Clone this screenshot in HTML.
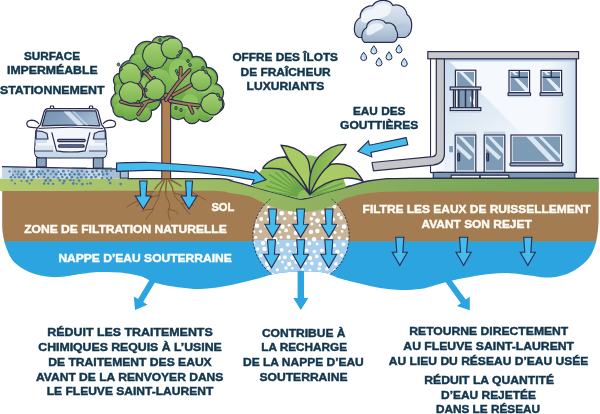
<!DOCTYPE html>
<html><head><meta charset="utf-8"><style>
html,body{margin:0;padding:0;background:#fff;width:600px;height:414px;overflow:hidden}
svg{display:block}
.tx{will-change:transform}
text{font-family:"Liberation Sans",sans-serif;font-weight:bold;stroke-width:0.45px;paint-order:stroke}
</style></head><body>
<svg width="600" height="414" viewBox="0 0 600 414">
<clipPath id="gclip"><path d="M2.2,181.5 L2.2,225.0 C2.3,226.2 2.2,229.3 2.6,232.0 C3.0,234.7 3.5,238.0 4.3,241.0 C5.1,244.0 5.9,246.8 7.2,250.0 C8.5,253.2 9.9,257.0 12.3,260.0 C14.7,263.0 18.4,265.8 21.7,268.0 C25.0,270.2 28.3,271.7 31.9,273.0 C35.5,274.3 39.6,275.3 43.5,276.0 C47.4,276.7 50.6,277.2 55.0,277.2 C59.4,277.1 65.8,276.2 70.0,275.7 C74.2,275.2 75.0,274.6 80.0,274.0 C85.0,273.4 93.3,272.2 100.0,272.0 C106.7,271.8 113.3,271.8 120.0,272.5 C126.7,273.2 135.0,274.7 140.0,276.0 C145.0,277.3 146.7,279.2 150.0,280.5 C153.3,281.8 155.0,282.8 160.0,284.0 C165.0,285.2 173.3,286.7 180.0,287.5 C186.7,288.3 193.3,289.1 200.0,289.0 C206.7,288.9 213.3,288.0 220.0,287.0 C226.7,286.0 233.3,284.5 240.0,283.0 C246.7,281.5 255.0,279.3 260.0,278.0 C265.0,276.7 266.7,275.8 270.0,275.0 C273.3,274.2 275.0,273.6 280.0,273.0 C285.0,272.4 293.3,271.8 300.0,271.6 C306.7,271.4 315.0,271.5 320.0,272.0 C325.0,272.5 326.7,273.4 330.0,274.5 C333.3,275.6 335.0,277.0 340.0,278.5 C345.0,280.0 353.3,282.0 360.0,283.6 C366.7,285.2 373.3,286.9 380.0,288.0 C386.7,289.1 393.3,289.8 400.0,290.0 C406.7,290.2 415.0,289.5 420.0,289.0 C425.0,288.5 425.0,288.1 430.0,286.8 C435.0,285.5 443.3,282.6 450.0,281.0 C456.7,279.4 463.3,278.2 470.0,277.0 C476.7,275.8 483.3,274.6 490.0,274.0 C496.7,273.4 503.3,272.9 510.0,273.2 C516.7,273.4 524.2,274.8 530.0,275.5 C535.8,276.2 540.0,277.4 545.0,277.5 C550.0,277.6 555.0,277.2 560.0,276.0 C565.0,274.8 570.2,272.9 575.0,270.0 C579.8,267.1 585.1,262.8 588.5,258.5 C591.9,254.2 593.9,249.4 595.5,244.0 C597.1,238.6 597.8,232.5 598.3,226.0 C598.8,219.5 598.5,208.5 598.6,205.0 L598.6,181.5 C579.7,181.5 431.4,181.4 410.0,181.5 C388.6,181.6 389.2,181.8 385.0,182.0 C380.8,182.2 371.5,183.3 368.0,184.0 C364.5,184.7 353.8,187.9 350.0,189.0 C346.2,190.1 333.8,193.4 330.0,194.5 C326.2,195.6 315.0,199.2 312.0,200.0 C309.0,200.8 303.0,202.2 300.0,202.0 C297.0,201.8 285.5,198.4 282.0,197.5 C278.5,196.6 268.2,193.9 265.0,193.0 C261.8,192.1 253.3,189.7 250.0,188.8 C246.7,187.9 235.0,184.9 232.0,184.2 C229.0,183.5 243.0,182.0 220.0,181.7 C197.0,181.4 24.0,181.5 2.2,181.5 Z"/></clipPath>
<g clip-path="url(#gclip)"><rect x="0" y="180" width="600" height="61.6" fill="#a37c51"/><rect x="0" y="241.6" width="600" height="60" fill="#2ca4df"/><rect x="0" y="240.6" width="600" height="1" fill="#a8784b"/><rect x="0" y="241.6" width="600" height="1.2" fill="#1aa8e7"/></g>
<clipPath id="ccl"><circle cx="301" cy="236" r="48"/></clipPath>
<g clip-path="url(#gclip)"><g clip-path="url(#ccl)"><rect x="250" y="185" width="102" height="54.5" fill="#c8b497"/><rect x="250" y="239.5" width="102" height="50" fill="#a9cfee"/><g fill="#fff"><circle cx="253.4" cy="206.0" r="2.0"/><circle cx="260.5" cy="207.1" r="1.7"/><circle cx="268.4" cy="207.0" r="1.3"/><circle cx="277.8" cy="205.7" r="1.4"/><circle cx="285.7" cy="208.0" r="1.4"/><circle cx="293.0" cy="207.4" r="2.3"/><circle cx="302.3" cy="206.7" r="2.4"/><circle cx="308.4" cy="208.1" r="1.6"/><circle cx="316.7" cy="205.9" r="1.6"/><circle cx="327.1" cy="206.0" r="1.9"/><circle cx="334.5" cy="206.6" r="1.9"/><circle cx="340.4" cy="205.7" r="1.5"/><circle cx="258.1" cy="213.0" r="1.6"/><circle cx="265.8" cy="213.1" r="1.6"/><circle cx="274.6" cy="213.8" r="1.6"/><circle cx="281.8" cy="213.3" r="2.3"/><circle cx="290.3" cy="212.6" r="2.4"/><circle cx="296.1" cy="213.0" r="2.1"/><circle cx="304.2" cy="213.2" r="1.3"/><circle cx="314.1" cy="214.0" r="1.9"/><circle cx="322.9" cy="212.6" r="2.1"/><circle cx="329.8" cy="213.4" r="1.8"/><circle cx="338.7" cy="214.5" r="1.8"/><circle cx="346.1" cy="211.9" r="2.1"/><circle cx="254.5" cy="220.9" r="2.2"/><circle cx="261.2" cy="219.1" r="2.0"/><circle cx="268.3" cy="219.3" r="1.5"/><circle cx="276.6" cy="218.1" r="2.1"/><circle cx="284.7" cy="218.6" r="1.7"/><circle cx="295.3" cy="218.1" r="1.8"/><circle cx="302.2" cy="220.6" r="2.2"/><circle cx="311.3" cy="218.7" r="1.8"/><circle cx="317.5" cy="220.6" r="2.4"/><circle cx="324.7" cy="218.4" r="1.6"/><circle cx="333.0" cy="219.4" r="1.9"/><circle cx="341.1" cy="217.9" r="1.8"/><circle cx="257.0" cy="225.8" r="2.3"/><circle cx="266.2" cy="225.6" r="2.0"/><circle cx="274.1" cy="224.3" r="2.3"/><circle cx="282.5" cy="226.7" r="2.2"/><circle cx="289.1" cy="225.3" r="1.4"/><circle cx="298.0" cy="224.3" r="1.4"/><circle cx="304.5" cy="224.6" r="1.7"/><circle cx="311.9" cy="224.1" r="1.5"/><circle cx="320.1" cy="225.2" r="1.3"/><circle cx="330.8" cy="225.9" r="1.5"/><circle cx="336.6" cy="225.1" r="1.7"/><circle cx="344.1" cy="226.6" r="2.4"/><circle cx="253.9" cy="231.8" r="1.4"/><circle cx="260.6" cy="231.3" r="1.6"/><circle cx="271.2" cy="230.8" r="1.3"/><circle cx="279.6" cy="231.9" r="1.5"/><circle cx="286.2" cy="230.4" r="1.9"/><circle cx="295.7" cy="232.9" r="2.1"/><circle cx="301.1" cy="231.4" r="1.5"/><circle cx="311.0" cy="231.9" r="2.2"/><circle cx="317.4" cy="231.0" r="2.2"/><circle cx="327.7" cy="232.9" r="2.2"/><circle cx="335.1" cy="232.5" r="1.5"/><circle cx="342.1" cy="231.4" r="1.3"/><circle cx="255.8" cy="237.3" r="1.6"/><circle cx="266.2" cy="239.4" r="1.8"/><circle cx="275.1" cy="239.5" r="2.4"/><circle cx="281.0" cy="237.2" r="1.5"/><circle cx="288.4" cy="237.1" r="2.0"/><circle cx="298.9" cy="239.0" r="1.8"/><circle cx="306.1" cy="238.9" r="1.4"/><circle cx="314.1" cy="239.2" r="2.2"/><circle cx="322.4" cy="237.9" r="1.5"/><circle cx="330.5" cy="237.5" r="2.2"/><circle cx="339.2" cy="237.7" r="1.7"/><circle cx="347.1" cy="238.7" r="1.5"/><circle cx="252.7" cy="243.2" r="2.3"/><circle cx="263.1" cy="243.1" r="2.2"/><circle cx="271.7" cy="244.7" r="1.7"/><circle cx="278.2" cy="243.1" r="1.3"/><circle cx="287.7" cy="244.6" r="1.9"/><circle cx="295.6" cy="244.0" r="2.3"/><circle cx="303.2" cy="243.3" r="1.6"/><circle cx="309.3" cy="243.4" r="1.9"/><circle cx="317.1" cy="244.0" r="1.4"/><circle cx="327.5" cy="243.8" r="1.8"/><circle cx="334.3" cy="245.4" r="1.8"/><circle cx="343.5" cy="244.2" r="1.9"/><circle cx="257.6" cy="249.0" r="1.8"/><circle cx="264.4" cy="248.9" r="2.2"/><circle cx="272.3" cy="250.3" r="2.1"/><circle cx="281.7" cy="249.9" r="1.9"/><circle cx="289.7" cy="251.3" r="1.4"/><circle cx="297.7" cy="249.6" r="1.6"/><circle cx="306.5" cy="250.4" r="1.9"/><circle cx="314.4" cy="251.6" r="1.8"/><circle cx="321.9" cy="250.4" r="1.9"/><circle cx="330.2" cy="250.3" r="1.9"/><circle cx="337.4" cy="251.7" r="2.1"/><circle cx="346.9" cy="251.7" r="1.6"/><circle cx="254.2" cy="257.9" r="2.2"/><circle cx="260.7" cy="255.5" r="1.8"/><circle cx="268.5" cy="255.8" r="1.4"/><circle cx="278.6" cy="257.5" r="2.3"/><circle cx="284.8" cy="257.2" r="2.0"/><circle cx="292.7" cy="257.7" r="2.4"/><circle cx="301.0" cy="258.0" r="1.7"/><circle cx="310.0" cy="258.1" r="2.2"/><circle cx="316.8" cy="256.4" r="1.9"/><circle cx="325.4" cy="255.7" r="1.7"/><circle cx="334.8" cy="255.2" r="1.9"/><circle cx="341.8" cy="255.2" r="1.7"/><circle cx="257.9" cy="262.8" r="1.4"/><circle cx="267.2" cy="263.7" r="2.4"/><circle cx="272.1" cy="262.1" r="1.3"/><circle cx="282.5" cy="262.1" r="1.4"/><circle cx="289.2" cy="264.0" r="2.2"/><circle cx="296.6" cy="261.7" r="2.3"/><circle cx="305.8" cy="263.4" r="1.4"/><circle cx="311.9" cy="263.4" r="1.8"/><circle cx="320.0" cy="264.1" r="2.0"/><circle cx="330.6" cy="261.6" r="2.2"/><circle cx="335.9" cy="263.9" r="1.8"/><circle cx="344.9" cy="263.0" r="2.3"/><circle cx="253.2" cy="267.9" r="1.9"/><circle cx="261.1" cy="267.8" r="1.5"/><circle cx="268.4" cy="268.1" r="1.6"/><circle cx="277.3" cy="269.8" r="1.6"/><circle cx="286.0" cy="268.0" r="1.7"/><circle cx="292.3" cy="268.3" r="1.3"/><circle cx="302.8" cy="269.2" r="1.5"/><circle cx="309.9" cy="270.3" r="1.4"/><circle cx="319.1" cy="268.8" r="1.8"/><circle cx="327.2" cy="268.7" r="1.9"/><circle cx="334.7" cy="270.4" r="1.7"/><circle cx="343.2" cy="269.6" r="2.0"/><circle cx="257.2" cy="274.7" r="1.4"/><circle cx="264.2" cy="273.9" r="2.1"/><circle cx="272.6" cy="274.2" r="1.4"/><circle cx="282.7" cy="276.3" r="2.0"/><circle cx="288.7" cy="274.4" r="1.6"/><circle cx="297.4" cy="274.2" r="1.8"/><circle cx="304.6" cy="276.6" r="2.4"/><circle cx="313.7" cy="274.4" r="2.4"/><circle cx="320.8" cy="274.8" r="1.3"/><circle cx="329.1" cy="275.1" r="1.9"/><circle cx="336.4" cy="275.2" r="1.3"/><circle cx="344.7" cy="274.0" r="1.7"/><circle cx="252.4" cy="280.0" r="1.6"/><circle cx="261.0" cy="281.7" r="1.9"/><circle cx="270.9" cy="281.9" r="2.1"/><circle cx="279.4" cy="281.1" r="1.7"/><circle cx="287.7" cy="280.3" r="2.1"/><circle cx="294.5" cy="280.0" r="2.2"/><circle cx="303.4" cy="281.8" r="2.1"/><circle cx="311.1" cy="280.3" r="1.9"/><circle cx="318.0" cy="282.4" r="2.2"/><circle cx="327.2" cy="281.7" r="2.3"/><circle cx="334.7" cy="282.0" r="1.6"/><circle cx="340.3" cy="280.3" r="1.7"/></g></g></g>
<g fill="none" stroke="#7b5434" stroke-width="0.9" stroke-linecap="round"><path d="M163,181 C160,185 156,187 154,191 C151,195 146,196 141,199 C136,202 132,203 127,207"/><path d="M164.5,181 C163,187 159,190 159,195 C159,200 154,204 153,209 C152,213 148,215 146,219"/><path d="M166.5,181 C167,187 164,191 166,196 C168,201 171,204 169,209 C167,213 169,216 170,220"/><path d="M168.5,181 C171,186 174,188 174,193 C174,198 179,200 182,204 C185,208 186,211 190,214"/><path d="M170,181 C175,184 180,184 184,188 C188,192 193,192 197,195 C200,197 203,198 206,200"/><path d="M154,191 C150,193 146,191 141,192"/><path d="M159,195 C155,197 151,196 147,199"/><path d="M174,193 C178,195 181,194 186,196"/><path d="M153,209 C150,210 146,209 142,211"/><path d="M182,204 C185,204 189,203 193,205"/><path d="M146,196 C144,200 140,202 137,206"/><path d="M169,209 C173,211 176,210 178,214"/></g>
<linearGradient id="gg" x1="0" x2="1" y1="0" y2="0"><stop offset="0" stop-color="#b3ca72"/><stop offset="0.33" stop-color="#9ebc64"/><stop offset="0.58" stop-color="#8caf5f"/><stop offset="0.82" stop-color="#7aa759"/><stop offset="1" stop-color="#74a456"/></linearGradient>
<path d="M0.0,178.5 C22.0,178.5 196.8,178.4 220.0,178.7 C243.2,179.0 229.0,180.5 232.0,181.2 C235.0,181.9 246.7,184.9 250.0,185.8 C253.3,186.7 261.8,189.1 265.0,190.0 C268.2,190.9 278.5,193.6 282.0,194.5 C285.5,195.4 297.0,198.8 300.0,199.0 C303.0,199.2 309.0,197.8 312.0,197.0 C315.0,196.2 326.2,192.6 330.0,191.5 C333.8,190.4 346.2,187.1 350.0,186.0 C353.8,184.9 364.5,181.7 368.0,181.0 C371.5,180.3 380.8,179.1 385.0,178.8 C389.2,178.5 388.6,178.4 410.0,178.3 C431.4,178.2 579.7,178.3 598.6,178.3 L598.6,191.5 C579.7,191.5 431.9,191.3 410.0,191.4 C388.1,191.5 385.0,191.7 380.0,192.0 C375.0,192.3 363.5,193.8 360.0,194.5 C356.5,195.2 347.5,197.5 345.0,198.5 C342.5,199.5 337.0,203.5 335.0,204.5 C333.0,205.5 327.3,207.8 325.0,208.5 C322.7,209.2 314.4,210.9 312.0,211.3 C309.6,211.7 303.2,212.3 301.0,212.3 C298.8,212.3 292.4,211.7 290.0,211.3 C287.6,210.9 279.5,209.1 277.0,208.3 C274.5,207.5 267.7,204.8 265.0,203.6 C262.3,202.4 253.5,197.6 250.0,196.5 C246.5,195.4 234.5,193.6 230.0,193.0 C225.5,192.4 228.0,191.0 205.0,190.8 C182.0,190.6 20.5,191.0 0.0,191.0 Z" fill="url(#gg)"/>
<path d="M127.5,178.6 C136.8,178.6 209.6,178.4 220.0,178.7 C230.4,179.0 229.0,180.5 232.0,181.2 C235.0,181.9 246.7,184.9 250.0,185.8 C253.3,186.7 261.8,189.1 265.0,190.0 C268.2,190.9 278.5,193.6 282.0,194.5 C285.5,195.4 297.0,198.8 300.0,199.0 C303.0,199.2 309.0,197.8 312.0,197.0 C315.0,196.2 326.2,192.6 330.0,191.5 C333.8,190.4 346.2,187.1 350.0,186.0 C353.8,184.9 364.5,181.7 368.0,181.0 C371.5,180.3 380.8,179.1 385.0,178.8 C389.2,178.5 388.6,178.4 410.0,178.3 C431.4,178.2 579.7,178.3 598.6,178.3" stroke="#2b2c4f" stroke-width="1.3" fill="none"/>
<path d="M270.3,199 A48,48 0 0 0 271.5,274" stroke="#2b2c4f" stroke-width="0.9" stroke-dasharray="2.2 1.6" fill="none"/>
<path d="M331.7,199 A48,48 0 0 1 330.5,274" stroke="#2b2c4f" stroke-width="0.9" stroke-dasharray="2.2 1.6" fill="none"/>
<path d="M2,166.6 L121,169.2 L121,178.6 L2,178.6 Z" fill="#c4d7e7"/><rect x="12" y="167" width="14" height="11.5" fill="#a9c1d6"/><rect x="40" y="167" width="17.4" height="11.5" fill="#a9c1d6"/><rect x="71.5" y="167" width="15.200000000000003" height="11.5" fill="#a9c1d6"/><rect x="102" y="167" width="10" height="11.5" fill="#a9c1d6"/><g fill="#5580a6"><circle cx="9.5" cy="171.4" r="1.17"/><circle cx="15.0" cy="171.5" r="1.03"/><circle cx="18.6" cy="171.7" r="1.12"/><circle cx="23.9" cy="171.9" r="1.21"/><circle cx="29.9" cy="171.3" r="1.29"/><circle cx="33.3" cy="171.5" r="1.39"/><circle cx="38.8" cy="171.6" r="1.30"/><circle cx="42.7" cy="171.6" r="1.27"/><circle cx="48.0" cy="170.7" r="1.39"/><circle cx="53.1" cy="171.6" r="1.40"/><circle cx="58.4" cy="171.8" r="1.18"/><circle cx="63.4" cy="171.2" r="1.42"/><circle cx="68.4" cy="170.8" r="1.06"/><circle cx="71.8" cy="171.9" r="1.20"/><circle cx="77.5" cy="171.1" r="1.23"/><circle cx="81.8" cy="171.1" r="1.26"/><circle cx="87.0" cy="171.8" r="1.31"/><circle cx="92.5" cy="171.7" r="1.45"/><circle cx="96.7" cy="170.9" r="1.39"/><circle cx="102.1" cy="171.8" r="1.26"/><circle cx="106.4" cy="171.0" r="1.37"/><circle cx="110.9" cy="171.0" r="1.03"/><circle cx="12.9" cy="175.0" r="1.04"/><circle cx="17.6" cy="174.3" r="1.07"/><circle cx="21.4" cy="174.7" r="1.39"/><circle cx="25.7" cy="174.5" r="1.02"/><circle cx="31.8" cy="174.2" r="1.40"/><circle cx="37.2" cy="174.4" r="1.45"/><circle cx="40.6" cy="173.9" r="1.27"/><circle cx="44.9" cy="174.0" r="1.18"/><circle cx="50.8" cy="174.0" r="1.02"/><circle cx="56.1" cy="174.2" r="1.43"/><circle cx="61.0" cy="174.3" r="1.21"/><circle cx="65.0" cy="174.6" r="1.27"/><circle cx="69.9" cy="174.5" r="1.42"/><circle cx="74.6" cy="174.3" r="1.32"/><circle cx="78.9" cy="174.2" r="1.44"/><circle cx="84.2" cy="174.5" r="1.01"/><circle cx="88.8" cy="174.5" r="1.01"/><circle cx="94.0" cy="174.6" r="1.03"/><circle cx="98.9" cy="174.4" r="1.31"/><circle cx="103.1" cy="174.6" r="1.33"/><circle cx="107.2" cy="173.9" r="1.30"/><circle cx="10.9" cy="177.2" r="1.21"/><circle cx="15.0" cy="177.3" r="1.16"/><circle cx="19.2" cy="177.3" r="1.27"/><circle cx="24.0" cy="177.4" r="1.35"/><circle cx="28.3" cy="177.6" r="1.33"/><circle cx="33.6" cy="177.2" r="1.36"/><circle cx="38.3" cy="177.1" r="1.20"/><circle cx="44.0" cy="177.0" r="1.14"/><circle cx="48.1" cy="177.9" r="1.20"/><circle cx="53.9" cy="177.1" r="1.15"/><circle cx="58.3" cy="178.0" r="1.20"/><circle cx="62.3" cy="177.0" r="1.24"/><circle cx="67.0" cy="177.9" r="1.38"/><circle cx="71.8" cy="177.2" r="1.36"/><circle cx="77.5" cy="177.9" r="1.16"/><circle cx="81.3" cy="177.3" r="1.36"/><circle cx="86.3" cy="177.3" r="1.19"/><circle cx="91.4" cy="177.4" r="1.41"/><circle cx="95.7" cy="176.9" r="1.42"/><circle cx="102.0" cy="178.1" r="1.20"/><circle cx="106.9" cy="178.0" r="1.10"/><circle cx="111.3" cy="177.9" r="1.30"/><circle cx="11.8" cy="180.4" r="1.10"/><circle cx="21.4" cy="181.0" r="1.02"/><circle cx="27.0" cy="181.1" r="1.40"/><circle cx="31.6" cy="180.0" r="1.34"/><circle cx="45.8" cy="180.5" r="1.42"/><circle cx="50.3" cy="180.3" r="1.39"/><circle cx="59.9" cy="180.2" r="1.24"/><circle cx="64.3" cy="181.0" r="1.41"/><circle cx="70.4" cy="180.0" r="1.28"/><circle cx="73.7" cy="180.3" r="1.12"/><circle cx="79.2" cy="180.6" r="1.35"/><circle cx="108.9" cy="180.1" r="1.23"/><circle cx="15.0" cy="183.5" r="1.09"/><circle cx="29.6" cy="183.6" r="1.04"/><circle cx="44.2" cy="183.6" r="1.36"/><circle cx="48.3" cy="183.5" r="1.22"/><circle cx="53.0" cy="183.9" r="1.21"/><circle cx="63.2" cy="183.2" r="1.19"/><circle cx="73.3" cy="183.5" r="1.40"/><circle cx="76.7" cy="183.7" r="1.06"/><circle cx="82.3" cy="184.2" r="1.36"/><circle cx="87.3" cy="183.8" r="1.05"/><circle cx="90.6" cy="183.3" r="1.35"/><circle cx="110.2" cy="183.1" r="1.38"/><circle cx="120.7" cy="184.1" r="1.43"/></g><path d="M112,168.8 L121,169.2 L121,178.6 L112,178.6 Z" fill="#a6bdd2"/><path d="M2,166.6 L121,169.2" stroke="#2b2c4f" stroke-width="1.3" fill="none"/><rect x="120.3" y="170.8" width="8" height="7.3" fill="#a6bcd0" stroke="#2b2c4f" stroke-width="1"/>
<rect x="50.4" y="106" width="3.3" height="3" rx="0.8" fill="#fff" stroke="#2b2c4f" stroke-width="1.2" stroke-linejoin="round"/><rect x="89.4" y="106" width="3.3" height="3" rx="0.8" fill="#fff" stroke="#2b2c4f" stroke-width="1.2" stroke-linejoin="round"/><path d="M39,124 Q36,120.2 31.5,120.2 Q26.8,120.5 26.8,123.8 Q27,127.4 31.5,127.4 L38,128" fill="#fff" stroke="#2b2c4f" stroke-width="1.2" stroke-linejoin="round"/><path d="M103,124 Q106,120.2 110.5,120.2 Q115.5,120.5 115.6,123.8 Q115.4,127.4 110.5,127.4 L104,128" fill="#fff" stroke="#2b2c4f" stroke-width="1.2" stroke-linejoin="round"/><path d="M48,108.6 L94,108.6 Q97.5,108.8 98.3,112 L101.5,124.5 Q104.5,127.5 105.6,131 L106.8,151 Q106.8,157.8 102,157.8 L40,157.8 Q34.6,157.8 34.6,151 L35.8,131 Q37,127.5 40.5,124.5 L44,112 Q45,108.8 48,108.6 Z" fill="#f3f6fa" stroke="#2b2c4f" stroke-width="1.2" stroke-linejoin="round"/><path d="M35.6,138 L47,138.5 L47,143 L35.4,143 Z" fill="#d3e1ee"/><path d="M106,138 L94.5,138.5 L94.5,143 L106.2,143 Z" fill="#d3e1ee"/><path d="M35.3,145.5 L53,145.5 L54.5,151 L35,151 Z" fill="#dbe6f1"/><path d="M106.2,145.5 L88.5,145.5 L87,151 L106.5,151 Z" fill="#dbe6f1"/><path d="M35.5,151 L106,151 L106.2,153 Q106,157.2 102,157.2 L40,157.2 Q35.4,157 35.4,153 Z" fill="#c8d9ea"/><path d="M35,151 L53,151 M89,151 L106.6,151" stroke="#2b2c4f" stroke-width="0.9" fill="none"/><linearGradient id="wsg" x1="0" y1="0" x2="1" y2="0.3"><stop offset="0" stop-color="#7593af"/><stop offset="0.6" stop-color="#88a4be"/><stop offset="1" stop-color="#a3bbd1"/></linearGradient><path d="M46.2,110.8 L95.8,110.8 L99.8,125.8 Q70.7,124.3 42,125.8 Z" fill="url(#wsg)" stroke="#2b2c4f" stroke-width="1.2" stroke-linejoin="round"/><path d="M63.5,111.4 L70,111.4 L83.8,125.2 L77.3,125.2 Z" fill="#dce8f3" opacity="0.9"/><path d="M72,111.4 L74.5,111.4 L88.5,125.2 L86,125.2 Z" fill="#c9dbeb" opacity="0.8"/><path d="M38.5,128.4 Q70.7,126 103,128.4" stroke="#2b2c4f" stroke-width="1" fill="none"/><path d="M36.2,131 Q42,130.6 47,133.5 L48,139 L36,139 Z" fill="#c7d9ea" stroke="#2b2c4f" stroke-width="1.2" stroke-linejoin="round"/><path d="M105.2,131 Q99.4,130.6 94.4,133.5 L93.4,139 L105.4,139 Z" fill="#c7d9ea" stroke="#2b2c4f" stroke-width="1.2" stroke-linejoin="round"/><path d="M56.5,150.8 Q70.7,153.2 85.2,150.8 L86,155.5 Q70.7,157.5 55.6,155.5 Z" fill="#c8d9ea"/><path d="M51.8,132.3 L56.5,150.8 Q70.7,153.2 85.2,150.8 L90,132.3" fill="none" stroke="#2b2c4f" stroke-width="1.2" stroke-linejoin="round"/><rect x="57.6" y="139.3" width="27.6" height="2.3" rx="1" fill="#7f99b4" stroke="#2b2c4f" stroke-width="1.2" stroke-linejoin="round"/><rect x="58.6" y="144.9" width="25.6" height="2.3" rx="1" fill="#7f99b4" stroke="#2b2c4f" stroke-width="1.2" stroke-linejoin="round"/><rect x="36.6" y="158" width="9.6" height="8.8" fill="#8aa4bd" stroke="#2b2c4f" stroke-width="1.2" stroke-linejoin="round"/><rect x="93.4" y="158" width="9.6" height="10" fill="#8aa4bd" stroke="#2b2c4f" stroke-width="1.2" stroke-linejoin="round"/>
<linearGradient id="tg1" x1="0" y1="0" x2="0" y2="1"><stop offset="0" stop-color="#a6d072"/><stop offset="1" stop-color="#7bb450"/></linearGradient><linearGradient id="tg0" x1="0" y1="0" x2="0" y2="1"><stop offset="0" stop-color="#7cb652"/><stop offset="1" stop-color="#5f9c40"/></linearGradient><g fill="none" stroke="#2b2c4f" stroke-width="2.4"><circle cx="131" cy="72" r="11"/><circle cx="126" cy="88" r="11"/><circle cx="121" cy="102" r="9.5"/><circle cx="121" cy="109" r="7.5"/><circle cx="130" cy="111" r="9"/><circle cx="143" cy="113" r="8"/><circle cx="147" cy="54" r="12"/><circle cx="139" cy="62" r="9"/><circle cx="160" cy="45" r="8"/><circle cx="169" cy="47" r="10.5"/><circle cx="182" cy="58" r="10"/><circle cx="196" cy="67" r="10"/><circle cx="207" cy="78" r="10"/><circle cx="214" cy="93" r="9"/><circle cx="215" cy="104" r="8.5"/><circle cx="205" cy="113" r="8"/><circle cx="192" cy="115" r="8"/><circle cx="178" cy="110" r="9"/><circle cx="158" cy="82" r="16"/><circle cx="180" cy="85" r="16"/><circle cx="140" cy="90" r="12"/><circle cx="196" cy="95" r="13"/><circle cx="150" cy="100" r="10"/><circle cx="165" cy="62" r="10"/><circle cx="120" cy="80" r="6"/></g><linearGradient id="tgb" x1="0" y1="0" x2="0" y2="1"><stop offset="0" stop-color="#8fc561"/><stop offset="1" stop-color="#6aa746"/></linearGradient><g fill="#72ad4a"><circle cx="131" cy="72" r="11"/><circle cx="126" cy="88" r="11"/><circle cx="121" cy="102" r="9.5"/><circle cx="121" cy="109" r="7.5"/><circle cx="130" cy="111" r="9"/><circle cx="143" cy="113" r="8"/><circle cx="147" cy="54" r="12"/><circle cx="139" cy="62" r="9"/><circle cx="160" cy="45" r="8"/><circle cx="169" cy="47" r="10.5"/><circle cx="182" cy="58" r="10"/><circle cx="196" cy="67" r="10"/><circle cx="207" cy="78" r="10"/><circle cx="214" cy="93" r="9"/><circle cx="215" cy="104" r="8.5"/><circle cx="205" cy="113" r="8"/><circle cx="192" cy="115" r="8"/><circle cx="178" cy="110" r="9"/><circle cx="158" cy="82" r="16"/><circle cx="180" cy="85" r="16"/><circle cx="140" cy="90" r="12"/><circle cx="196" cy="95" r="13"/><circle cx="150" cy="100" r="10"/><circle cx="165" cy="62" r="10"/><circle cx="120" cy="80" r="6"/></g><g fill="url(#tgb)"><circle cx="131" cy="72" r="9.3"/><circle cx="126" cy="88" r="9.3"/><circle cx="121" cy="102" r="8.1"/><circle cx="121" cy="109" r="6.4"/><circle cx="130" cy="111" r="7.6"/><circle cx="143" cy="113" r="6.8"/><circle cx="147" cy="54" r="10.2"/><circle cx="139" cy="62" r="7.6"/><circle cx="160" cy="45" r="6.8"/><circle cx="169" cy="47" r="8.9"/><circle cx="182" cy="58" r="8.5"/><circle cx="196" cy="67" r="8.5"/><circle cx="207" cy="78" r="8.5"/><circle cx="214" cy="93" r="7.6"/><circle cx="215" cy="104" r="7.2"/><circle cx="205" cy="113" r="6.8"/><circle cx="192" cy="115" r="6.8"/><circle cx="178" cy="110" r="7.6"/><circle cx="158" cy="82" r="13.6"/><circle cx="180" cy="85" r="13.6"/><circle cx="140" cy="90" r="10.2"/><circle cx="196" cy="95" r="11.0"/><circle cx="150" cy="100" r="8.5"/><circle cx="165" cy="62" r="8.5"/><circle cx="120" cy="80" r="5.1"/></g><g fill="#8fc462"><circle cx="180" cy="70" r="11"/><circle cx="205" cy="86" r="8"/><circle cx="190" cy="102" r="8"/><circle cx="140" cy="84" r="7"/><circle cx="124" cy="98" r="6"/><circle cx="212" cy="112" r="5"/></g><path d="M161.8,179 L161.8,104 Q161.5,98 156,96 L166,93 L174,96 Q170.6,99 170.6,106 L170.6,179 Z" fill="#b08152" stroke="#2b2c4f" stroke-width="1.1" stroke-linejoin="round"/><g fill="none" stroke-linecap="round"><path d="M166,100 Q175,85 189.5,70" stroke="#2b2c4f" stroke-width="4"/><path d="M180,78 Q181,72 180.7,67.8" stroke="#2b2c4f" stroke-width="4"/><path d="M163,98 Q150,100 139.4,105 Q130,105 121,101.6" stroke="#2b2c4f" stroke-width="4"/><path d="M146,96 Q140,85 134.4,76.5" stroke="#2b2c4f" stroke-width="4"/><path d="M170,101 Q185,104 198.8,105.5" stroke="#2b2c4f" stroke-width="4"/><path d="M173,95 Q183,90 191,85" stroke="#2b2c4f" stroke-width="4"/><path d="M146,103 Q142,109 138.3,114.2" stroke="#2b2c4f" stroke-width="4"/><path d="M189,105 Q191,109 192.5,112.6" stroke="#2b2c4f" stroke-width="4"/><path d="M151,79 Q148,75 144,72" stroke="#2b2c4f" stroke-width="4"/><path d="M157,92 Q156,84 154,78" stroke="#2b2c4f" stroke-width="4"/><path d="M166,100 Q175,85 189.5,70" stroke="#a57a50" stroke-width="2.1"/><path d="M180,78 Q181,72 180.7,67.8" stroke="#a57a50" stroke-width="2.1"/><path d="M163,98 Q150,100 139.4,105 Q130,105 121,101.6" stroke="#a57a50" stroke-width="2.1"/><path d="M146,96 Q140,85 134.4,76.5" stroke="#a57a50" stroke-width="2.1"/><path d="M170,101 Q185,104 198.8,105.5" stroke="#a57a50" stroke-width="2.1"/><path d="M173,95 Q183,90 191,85" stroke="#a57a50" stroke-width="2.1"/><path d="M146,103 Q142,109 138.3,114.2" stroke="#a57a50" stroke-width="2.1"/><path d="M189,105 Q191,109 192.5,112.6" stroke="#a57a50" stroke-width="2.1"/><path d="M151,79 Q148,75 144,72" stroke="#a57a50" stroke-width="2.1"/><path d="M157,92 Q156,84 154,78" stroke="#a57a50" stroke-width="2.1"/></g><path d="M140.9,73.5 Q142.6,79.1 138.7,83.5 Q136.7,86.9 132.8,86.5 Q127.9,87.5 124.4,83.9 Q121.2,83.4 120.7,80.4 Q117.8,76.1 120.0,71.4 Q120.9,66.5 125.4,64.7 Q128.1,62.0 131.6,63.3 Q137.1,64.2 139.3,69.4 Q141.7,70.9 140.9,73.5Z" fill="url(#tg1)" stroke="#2b2c4f" stroke-width="1.1" stroke-linejoin="round"/><path d="M142.6,93.4 Q143.3,97.9 139.7,100.7 Q137.6,103.4 133.7,102.7 Q129.7,104.4 126.1,101.8 Q121.8,101.1 120.4,97.2 Q118.1,92.8 120.7,88.5 Q122.2,83.8 126.9,82.7 Q130.6,80.7 134.2,83.0 Q137.9,82.9 139.5,86.1 Q143.2,88.9 142.6,93.4Z" fill="url(#tg1)" stroke="#2b2c4f" stroke-width="1.1" stroke-linejoin="round"/><path d="M165.0,88.7 Q165.9,93.9 162.0,97.4 Q160.2,100.2 156.9,99.6 Q152.4,101.2 148.8,98.2 Q145.3,96.9 145.0,93.2 Q143.3,89.3 146.0,85.8 Q146.3,82.6 149.3,81.7 Q152.6,77.9 157.4,78.7 Q161.8,79.5 163.4,83.9 Q165.9,85.7 165.0,88.7Z" fill="url(#tg1)" stroke="#2b2c4f" stroke-width="1.1" stroke-linejoin="round"/><path d="M166.9,55.0 Q167.8,60.2 163.9,63.6 Q162.2,67.7 157.9,67.9 Q153.7,69.7 150.1,66.8 Q145.8,65.6 144.6,61.2 Q141.4,57.4 143.1,52.8 Q144.0,46.4 149.9,43.7 Q154.1,41.0 158.5,43.4 Q163.6,43.9 165.7,48.6 Q168.4,51.2 166.9,55.0Z" fill="url(#tg1)" stroke="#2b2c4f" stroke-width="1.1" stroke-linejoin="round"/><path d="M182.2,48.5 Q182.7,52.9 179.1,55.6 Q177.9,58.3 175.0,58.0 Q170.7,60.0 166.7,57.3 Q163.1,56.1 162.5,52.3 Q160.0,48.4 162.0,44.2 Q163.4,40.5 167.6,39.9 Q169.4,37.4 172.3,38.1 Q176.7,37.2 179.6,40.4 Q183.1,43.7 182.2,48.5Z" fill="url(#tg1)" stroke="#2b2c4f" stroke-width="1.1" stroke-linejoin="round"/><path d="M211.0,81.5 Q211.8,84.9 209.1,86.9 Q206.3,90.9 201.4,90.6 Q197.8,91.5 195.2,88.7 Q192.2,87.4 192.0,84.1 Q189.5,80.8 191.0,77.1 Q192.0,73.0 196.1,71.8 Q198.4,69.3 201.5,70.3 Q206.0,70.5 208.2,74.5 Q211.6,77.3 211.0,81.5Z" fill="url(#tg1)" stroke="#2b2c4f" stroke-width="1.1" stroke-linejoin="round"/><path d="M222.5,103.8 Q223.4,107.2 220.6,109.5 Q219.3,113.6 215.2,114.6 Q210.8,116.0 207.2,112.8 Q202.6,111.3 201.5,106.7 Q199.8,104.1 201.7,101.5 Q202.3,97.4 206.3,95.8 Q209.7,92.3 214.3,93.4 Q218.8,94.3 220.5,98.7 Q223.2,100.6 222.5,103.8Z" fill="url(#tg1)" stroke="#2b2c4f" stroke-width="1.1" stroke-linejoin="round"/><g fill="#5f9c40" stroke="#2b2c4f" stroke-width="0.8"><ellipse cx="118.5" cy="64.5" rx="1.3" ry="1.6"/><ellipse cx="121" cy="69" rx="1.3" ry="1.6"/><ellipse cx="148" cy="71" rx="1.3" ry="1.6"/><ellipse cx="152" cy="69" rx="1.3" ry="1.6"/><ellipse cx="188" cy="61" rx="1.3" ry="1.6"/><ellipse cx="190" cy="65" rx="1.3" ry="1.6"/><ellipse cx="203" cy="68" rx="1.3" ry="1.6"/><ellipse cx="206" cy="72" rx="1.3" ry="1.6"/><ellipse cx="176.5" cy="71" rx="1.3" ry="1.6"/><ellipse cx="178" cy="74" rx="1.3" ry="1.6"/><ellipse cx="146" cy="90" rx="1.3" ry="1.6"/><ellipse cx="138" cy="102" rx="1.3" ry="1.6"/><ellipse cx="142" cy="105" rx="1.3" ry="1.6"/><ellipse cx="176" cy="108" rx="1.3" ry="1.6"/><ellipse cx="181" cy="110" rx="1.3" ry="1.6"/><ellipse cx="218" cy="95" rx="1.3" ry="1.6"/><ellipse cx="220" cy="99" rx="1.3" ry="1.6"/><ellipse cx="180" cy="52" rx="1.3" ry="1.6"/><ellipse cx="178" cy="56" rx="1.3" ry="1.6"/><ellipse cx="160" cy="40" rx="1.3" ry="1.6"/></g>
<g fill="none" stroke="#8a5f3a" stroke-width="1.5" stroke-linecap="round"><path d="M163,179.5 C161,183 157,185 155,189"/><path d="M164.5,179.5 C164,184 160,187 160,192"/><path d="M166.5,179.5 C167,184 165,188 166,193"/><path d="M168.5,179.5 C170,184 173,186 173,191"/><path d="M170,179.5 C174,182 177,183 181,186"/></g>
<clipPath id="moundclip"><path d="M240,120 L370,120 L370,181 L350,186 L330,191.5 L312,197 L300,199 L282,194.5 L265,190 L250,185.8 L240,183.5 Z"/></clipPath><g clip-path="url(#moundclip)"><path d="M252,206 L252,192 C252,176 268,158 289,155.5 C296,154.6 304,154.4 311,155.5 C330,159 345,172 347,192 L347,206 Z" fill="#8fbf5b"/><clipPath id="mshape"><path d="M252,206 L252,192 C252,176 268,158 289,155.5 C296,154.6 304,154.4 311,155.5 C330,159 345,172 347,192 L347,206 Z"/></clipPath><path clip-path="url(#mshape)" d="M297.1,195.9 L269.4,192.0 M297.3,194.8 L266.5,186.0 M297.7,193.7 L270.3,181.5 M298.2,192.8 L269.4,174.7 M298.9,191.9 L275.9,172.6 M299.6,191.1 L278.2,167.3 M300.5,190.4 L286.0,168.8 M301.5,189.8 L289.2,164.6 M302.5,189.4 L295.7,168.5 M303.6,189.1 L300.5,171.4 M306.4,189.1 L309.2,173.4 M307.7,189.5 L314.6,170.7 M309.0,190.1 L322.0,167.6 M310.1,190.9 L329.4,167.9 M311.1,191.9 L335.6,171.3 M311.9,193.0 L337.9,178.0 M312.5,194.3 L342.6,183.3 M312.8,195.3 L340.2,189.5" stroke="#6aa547" stroke-width="1.8" stroke-linecap="round" fill="none"/></g><linearGradient id="lgA" x1="0" y1="0" x2="0" y2="1"><stop offset="0" stop-color="#a9cb63"/><stop offset="1" stop-color="#86b654"/></linearGradient><path d="M309.9,194.6 C300,183 290,170 278.5,168.7 C272,168 266,168.5 262.8,168.3 C266,162 275,157 286,157 L300,175 Z" fill="url(#lgA)" stroke="#2b2c4f" stroke-width="1.4" stroke-linejoin="round"/><path d="M310,194.6 C305,180 292,168 286.4,155.4 C284,150 282,147 281,145.2 C290,145.5 300,150 305.2,155.4 C307,158 308.5,161 309,163 L311,178 Z" fill="#a9cb63" stroke="#2b2c4f" stroke-width="1.4" stroke-linejoin="round"/><linearGradient id="lgC" x1="0" y1="0" x2="1" y2="0"><stop offset="0" stop-color="#78ad4e"/><stop offset="1" stop-color="#a8ca61"/></linearGradient><path d="M309.9,194.6 C308,180 310,168 318.5,157 C326,149 335,144 346,144.4 C344,150 337,156 330.3,163.2 C325,170 318,182 309.9,194.6 Z" fill="url(#lgC)" stroke="#2b2c4f" stroke-width="1.4" stroke-linejoin="round"/><path d="M310,194.6 C318,186 331,180 345.2,178.1 C352,177.8 358,179 363.2,181.3 C360,176 355,169 349.9,166.4 C343,163 336,163.5 331,164.3 C322,170 315,182 310,194.6 Z" fill="#aacb64" stroke="#2b2c4f" stroke-width="1.4" stroke-linejoin="round"/>
<path d="M116.6,163.0 C121.1,162.9 140.2,162.2 150.0,162.5 C159.8,162.8 180.7,164.3 190.0,165.0 C199.3,165.7 213.3,167.0 220.0,167.7 C226.7,168.4 235.5,169.6 240.0,170.3 C244.5,171.0 252.1,172.5 254.0,172.8 L255.3,170 L266,179.7 L252,184.3 L254.0,180.0 C252.1,179.7 244.5,178.4 240.0,177.7 C235.5,177.0 226.7,175.8 220.0,175.0 C213.3,174.2 199.3,172.6 190.0,172.0 C180.7,171.4 159.8,170.4 150.0,170.3 C140.2,170.2 121.1,171.2 116.6,171.3 Z" fill="#45bcee" stroke="#2b2c4f" stroke-width="1.2" stroke-linejoin="miter"/>
<path d="M139.6,181 L147.0,181 L146.0,196 L151.3,196 L143.3,209 L135.3,196 L140.6,196 Z" fill="#45bcee" stroke="#2b2c4f" stroke-width="1.1" stroke-linejoin="miter"/>
<path d="M185.5,181 L192.5,181 L191.5,196 L197.0,196 L189.0,209 L181.0,196 L186.5,196 Z" fill="#45bcee" stroke="#2b2c4f" stroke-width="1.1" stroke-linejoin="miter"/>
<path d="M268.6,209 L276.6,209 L275.5,224.2 L280.4,224.2 L272.6,237.3 L264.8,224.2 L269.7,224.2 Z" fill="#45bcee" stroke="#2b2c4f" stroke-width="1.1" stroke-linejoin="miter"/>
<path d="M296.6,209 L304.6,209 L303.5,224.2 L308.4,224.2 L300.6,237.3 L292.8,224.2 L297.7,224.2 Z" fill="#45bcee" stroke="#2b2c4f" stroke-width="1.1" stroke-linejoin="miter"/>
<path d="M325.0,209 L333.0,209 L331.9,224.2 L336.8,224.2 L329.0,237.3 L321.2,224.2 L326.1,224.2 Z" fill="#45bcee" stroke="#2b2c4f" stroke-width="1.1" stroke-linejoin="miter"/>
<path d="M267.5,239.8 L275.5,239.8 L274.4,254.3 L279.4,254.3 L271.5,267.9 L263.6,254.3 L268.6,254.3 Z" fill="#45bcee" stroke="#2b2c4f" stroke-width="1.1" stroke-linejoin="miter"/>
<path d="M296.7,239.8 L304.7,239.8 L303.6,254.3 L308.6,254.3 L300.7,267.9 L292.8,254.3 L297.8,254.3 Z" fill="#45bcee" stroke="#2b2c4f" stroke-width="1.1" stroke-linejoin="miter"/>
<path d="M324.8,239.8 L332.8,239.8 L331.7,254.3 L336.7,254.3 L328.8,267.9 L320.9,254.3 L325.9,254.3 Z" fill="#45bcee" stroke="#2b2c4f" stroke-width="1.1" stroke-linejoin="miter"/>
<path d="M395.7,237.3 L403.9,237.3 L402.8,252.2 L407.4,252.2 L399.8,265.3 L392.2,252.2 L396.8,252.2 Z" fill="#45bcee" stroke="#2b2c4f" stroke-width="1.1" stroke-linejoin="miter"/>
<path d="M459.5,237.3 L467.7,237.3 L466.6,252.2 L471.2,252.2 L463.6,265.3 L456.0,252.2 L460.6,252.2 Z" fill="#45bcee" stroke="#2b2c4f" stroke-width="1.1" stroke-linejoin="miter"/>
<path d="M523.7,237.3 L531.9,237.3 L530.8,252.2 L535.4,252.2 L527.8,265.3 L520.2,252.2 L524.8,252.2 Z" fill="#45bcee" stroke="#2b2c4f" stroke-width="1.1" stroke-linejoin="miter"/>
<linearGradient id="wallg" x1="0" y1="0" x2="0.6" y2="1"><stop offset="0" stop-color="#c8dbeb"/><stop offset="0.7" stop-color="#eaf1f8"/><stop offset="1" stop-color="#f3f7fb"/></linearGradient><linearGradient id="wallr" x1="0" y1="0" x2="1" y2="0"><stop offset="0" stop-color="#f6f9fc" stop-opacity="0"/><stop offset="1" stop-color="#cddeed"/></linearGradient><rect x="430.6" y="58.5" width="145.6" height="114" fill="#f5f8fc" stroke="#2b2c4f" stroke-width="1.2"/><path d="M444.5,59 L447,59 L560,172 L444.5,172 Z" fill="url(#wallg)"/><rect x="540" y="59" width="35.6" height="113" fill="url(#wallr)"/><rect x="444.5" y="59" width="131" height="2.5" fill="#b9cfe3"/><rect x="430.6" y="58.5" width="145.6" height="114" fill="none" stroke="#2b2c4f" stroke-width="1.2"/><rect x="431.2" y="59" width="5.2" height="113" fill="#ffffff"/><rect x="433.3" y="172.4" width="141.5" height="5.7" fill="#7b97b2" stroke="#2b2c4f" stroke-width="1.2"/><rect x="427.8" y="51.6" width="150.8" height="7.2" fill="#c9cacd" stroke="#2b2c4f" stroke-width="1.2"/><rect x="455.4" y="70.2" width="20.4" height="38" fill="#f3f7fb" stroke="#2b2c4f" stroke-width="1.2"/><rect x="457.2" y="72" width="16.8" height="35" fill="#7d9bb5"/><path d="M459,72 L463,72 L474,83 L474,87 Z M470,96 L474,100 L474,105 L470,101 Z" fill="#e4eef7"/><rect x="450.2" y="87" width="30.6" height="2.8" fill="#c3d0dd" stroke="#2b2c4f" stroke-width="1.2"/><path d="M453.6,89.8 V107.8 M458.8,89.8 V107.8 M465.5,89.8 V107.8 M472.2,89.8 V107.8 M477.4,89.8 V107.8" stroke="#2b2c4f" stroke-width="1.5"/><rect x="450.2" y="107.6" width="30.6" height="3" fill="#c3d0dd" stroke="#2b2c4f" stroke-width="1.2"/><rect x="451" y="111.2" width="29" height="1.5" fill="#c5d6e6"/><rect x="509" y="70.4" width="20.6" height="22.3" fill="#f3f7fb" stroke="#2b2c4f" stroke-width="1.2"/><rect x="510.6" y="72" width="17.4" height="19" fill="#7d9bb5"/><path d="M510.6,77.3 H528" stroke="#2b2c4f" stroke-width="1.3"/><path d="M519.3,70.4 V77.3" stroke="#2b2c4f" stroke-width="1.2"/><path d="M512,72 L515,72 L518,75 L515,75 Z M514,78.5 L518,78.5 L528,88.5 L528,91 L525,91 Z" fill="#e4eef7"/><rect x="508" y="92.7" width="22.6" height="3" rx="1" fill="#9fb2c5" stroke="#2b2c4f" stroke-width="1.2"/><rect x="509" y="95.8" width="21" height="1.4" fill="#c5d6e6"/><rect x="541" y="70.4" width="20.6" height="22.3" fill="#f3f7fb" stroke="#2b2c4f" stroke-width="1.2"/><rect x="542.6" y="72" width="17.4" height="19" fill="#7d9bb5"/><path d="M542.6,77.3 H560" stroke="#2b2c4f" stroke-width="1.3"/><path d="M551.3,70.4 V77.3" stroke="#2b2c4f" stroke-width="1.2"/><path d="M544,72 L547,72 L550,75 L547,75 Z M546,78.5 L550,78.5 L560,88.5 L560,91 L557,91 Z" fill="#e4eef7"/><rect x="540" y="92.7" width="22.6" height="3" rx="1" fill="#9fb2c5" stroke="#2b2c4f" stroke-width="1.2"/><rect x="541" y="95.8" width="21" height="1.4" fill="#c5d6e6"/><rect x="454.7" y="131.6" width="21.5" height="3.4" fill="#c5d6e6"/><rect x="455.2" y="135" width="20.6" height="37.2" fill="#f3f7fb" stroke="#2b2c4f" stroke-width="1.2"/><rect x="456.8" y="136.6" width="17.4" height="33.8" fill="#7d9bb5"/><path d="M458.2,136.6 L462.2,136.6 L474.2,149 L474.2,154 Z M456.8,143 L456.8,148 L469.2,160 L472.2,157 Z" fill="#e4eef7" opacity="0.9"/><rect x="457.8" y="153" width="1.8" height="8" rx="0.9" fill="#5a6f88" stroke="#2b2c4f" stroke-width="1.2" stroke-width="0.7"/><rect x="451.2" y="175.2" width="28.6" height="2.9" fill="#eef3f8" stroke="#2b2c4f" stroke-width="1.2" stroke-width="0.9"/><rect x="483.7" y="131.6" width="21.5" height="3.4" fill="#c5d6e6"/><rect x="484.2" y="135" width="20.6" height="37.2" fill="#f3f7fb" stroke="#2b2c4f" stroke-width="1.2"/><rect x="485.8" y="136.6" width="17.4" height="33.8" fill="#7d9bb5"/><path d="M487.2,136.6 L491.2,136.6 L503.2,149 L503.2,154 Z M485.8,143 L485.8,148 L498.2,160 L501.2,157 Z" fill="#e4eef7" opacity="0.9"/><rect x="486.8" y="153" width="1.8" height="8" rx="0.9" fill="#5a6f88" stroke="#2b2c4f" stroke-width="1.2" stroke-width="0.7"/><rect x="480.2" y="175.2" width="28.6" height="2.9" fill="#eef3f8" stroke="#2b2c4f" stroke-width="1.2" stroke-width="0.9"/><rect x="511" y="135" width="50.6" height="28" fill="#f3f7fb" stroke="#2b2c4f" stroke-width="1.2"/><rect x="512.6" y="136.6" width="47.4" height="24.8" fill="#7d9bb5"/><path d="M526,136.6 L533,136.6 L557,161.4 L550,161.4 Z M538,136.6 L542,136.6 L560,155 L560,159 Z" fill="#e4eef7" opacity="0.9"/><rect x="510" y="163" width="53" height="2.8" rx="1" fill="#9fb2c5" stroke="#2b2c4f" stroke-width="1.2"/><rect x="449.3" y="146" width="3.6" height="6.3" fill="#7d98b3"/><path d="M436.3,58.8 L436.3,152.5 Q436.3,156 432.5,156.6 L372,162.5 L373.5,170.8 L433,165.2 Q444.4,163.5 444.4,154 L444.4,58.8 Z" fill="#c5c6c9" stroke="#2b2c4f" stroke-width="1.2" stroke-linejoin="round"/>
<path d="M406.2,137.6 L369.4,145.2 L368.5,140.8 L357.9,151.4 L371.8,156.9 L370.9,152.5 L407.8,144.8 Z" fill="#45bcee" stroke="#2b2c4f" stroke-width="1.1" stroke-linejoin="miter"/>
<linearGradient id="cg1" x1="0" y1="0" x2="0" y2="1"><stop offset="0" stop-color="#e3ebf4"/><stop offset="0.55" stop-color="#c6d5e4"/><stop offset="1" stop-color="#a3b8cd"/></linearGradient><linearGradient id="cg2" x1="0" y1="0" x2="0" y2="1"><stop offset="0" stop-color="#d5e1ee"/><stop offset="0.5" stop-color="#b7c9db"/><stop offset="1" stop-color="#9bb1c8"/></linearGradient><path d="M358.7,37.5 C355,35.5 354,31 354.5,27 C355,22 357.5,19 360.3,17.5 C359.5,11 365,6 372.6,5.6 C375,1.8 379.5,0.2 384,0.3 C388.5,0.5 391.5,2.5 392.8,5.4 C400,3.6 406,8 407,14.5 C410.5,17 412,22 411.6,27 C411.2,32.5 409,36 405,37.5 Z" fill="url(#cg1)" stroke="#2b2c4f" stroke-width="1.2" stroke-linejoin="round"/><path d="M361,20 C361,13 366,9.5 373,9 C376,4.5 381,3.3 386,4 C391,5 392,9 390,13 C387,17 380,18.5 374,20.5 C368,23 362,24 361,20 Z" fill="#f3f7fb" opacity="0.9"/><path d="M396,26 C400,22 407,23 408.5,28 C409,33 404,35 399,34 Z" fill="#b3c6d9" opacity="0.7"/><path d="M364.5,42.3 C362,40.5 361.5,37.5 362,34.8 C362.5,31 364.5,28.8 366.6,27.8 C366.5,22.5 371,19.6 376.5,19.5 C381,19.5 384.5,21 385.8,23.2 C391.5,21.8 396,25.5 396,30 C397.6,32 397.8,35.5 397.2,37.8 C396.5,40.5 394.5,42.3 392,42.3 Z" fill="url(#cg2)" stroke="#2b2c4f" stroke-width="1.2" stroke-linejoin="round"/><path d="M366.5,33.5 C365.5,27 370,23.5 375,23.4 C379,23 383,24 383.5,26.5 C383.5,29 379,30 375.5,32 C372,34.5 367.5,37 366.5,33.5 Z" fill="#eef4fa" opacity="0.9"/><path d="M373.8,45.7 Q377.0,49.5 376.8,51.5 Q376.6,54.0 373.8,54.0 Q371.0,54.0 370.8,51.5 Q370.6,49.5 373.8,45.7 Z" fill="#b9dcf1" stroke="#2b2c4f" stroke-width="1"/><path d="M372.6,50.5 Q372.5,52.5 373.8,52.8" stroke="#fff" stroke-width="0.8" fill="none"/><path d="M399.0,44.7 Q402.2,48.5 402.0,50.5 Q401.8,53.0 399.0,53.0 Q396.2,53.0 396.0,50.5 Q395.8,48.5 399.0,44.7 Z" fill="#b9dcf1" stroke="#2b2c4f" stroke-width="1"/><path d="M397.8,49.5 Q397.7,51.5 399.0,51.8" stroke="#fff" stroke-width="0.8" fill="none"/><path d="M363.7,52.2 Q366.9,56.0 366.7,58.0 Q366.5,60.5 363.7,60.5 Q360.9,60.5 360.7,58.0 Q360.5,56.0 363.7,52.2 Z" fill="#b9dcf1" stroke="#2b2c4f" stroke-width="1"/><path d="M362.5,57.0 Q362.4,59.0 363.7,59.3" stroke="#fff" stroke-width="0.8" fill="none"/><path d="M389.0,51.7 Q392.2,55.5 392.0,57.5 Q391.8,60.0 389.0,60.0 Q386.2,60.0 386.0,57.5 Q385.8,55.5 389.0,51.7 Z" fill="#b9dcf1" stroke="#2b2c4f" stroke-width="1"/><path d="M387.8,56.5 Q387.7,58.5 389.0,58.8" stroke="#fff" stroke-width="0.8" fill="none"/><path d="M379.0,57.7 Q382.2,61.5 382.0,63.5 Q381.8,66.0 379.0,66.0 Q376.2,66.0 376.0,63.5 Q375.8,61.5 379.0,57.7 Z" fill="#b9dcf1" stroke="#2b2c4f" stroke-width="1"/><path d="M377.8,62.5 Q377.7,64.5 379.0,64.8" stroke="#fff" stroke-width="0.8" fill="none"/><path d="M404.3,58.2 Q407.5,62.0 407.3,64.0 Q407.1,66.5 404.3,66.5 Q401.5,66.5 401.3,64.0 Q401.1,62.0 404.3,58.2 Z" fill="#b9dcf1" stroke="#2b2c4f" stroke-width="1"/><path d="M403.1,63.0 Q403.0,65.0 404.3,65.3" stroke="#fff" stroke-width="0.8" fill="none"/>
<path d="M150.9,277.5 L138.1,299.0 L133.8,296.5 L135.0,310.0 L147.5,304.7 L143.2,302.1 L156.1,280.5 Z" fill="#2ca4df"/>
<path d="M297.6,271 L304.0,271 L304.0,298 L308.3,298 L300.8,310 L293.3,298 L297.6,298 Z" fill="#2ca4df"/>
<path d="M444.6,280.8 L460.9,303.2 L456.9,306.1 L469.8,310.3 L469.8,296.7 L465.7,299.6 L449.4,277.2 Z" fill="#2ca4df"/>
<g class="tx" opacity="0.995">
<text x="52" y="59.699999999999996" font-size="11.6" fill="#0f344c" stroke="#0f344c" text-anchor="middle" textLength="56" lengthAdjust="spacingAndGlyphs">SURFACE</text>
<text x="52.3" y="74.3" font-size="11.6" fill="#0f344c" stroke="#0f344c" text-anchor="middle" textLength="90.6" lengthAdjust="spacingAndGlyphs">IMPERMÉABLE</text>
<text x="52.3" y="94.3" font-size="11.6" fill="#0f344c" stroke="#0f344c" text-anchor="middle" textLength="104.6" lengthAdjust="spacingAndGlyphs">STATIONNEMENT</text>
<text x="285.2" y="61.3" font-size="11.6" fill="#0f344c" stroke="#0f344c" text-anchor="middle" textLength="105.6" lengthAdjust="spacingAndGlyphs">OFFRE DES ÎLOTS</text>
<text x="285.6" y="75.89999999999999" font-size="11.6" fill="#0f344c" stroke="#0f344c" text-anchor="middle" textLength="90" lengthAdjust="spacingAndGlyphs">DE FRAÎCHEUR</text>
<text x="285.5" y="90.3" font-size="11.6" fill="#0f344c" stroke="#0f344c" text-anchor="middle" textLength="77.8" lengthAdjust="spacingAndGlyphs">LUXURIANTS</text>
<text x="379.2" y="114.5" font-size="11.6" fill="#0f344c" stroke="#0f344c" text-anchor="middle" textLength="52.5" lengthAdjust="spacingAndGlyphs">EAU DES</text>
<text x="379.2" y="129.0" font-size="11.6" fill="#0f344c" stroke="#0f344c" text-anchor="middle" textLength="78.3" lengthAdjust="spacingAndGlyphs">GOUTTIÈRES</text>
<text x="130" y="336.0" font-size="11.6" fill="#0f344c" stroke="#0f344c" text-anchor="middle" textLength="165.4" lengthAdjust="spacingAndGlyphs">RÉDUIT LES TRAITEMENTS</text>
<text x="130" y="351.0" font-size="11.6" fill="#0f344c" stroke="#0f344c" text-anchor="middle" textLength="183.4" lengthAdjust="spacingAndGlyphs">CHIMIQUES REQUIS À L’USINE</text>
<text x="130" y="366.0" font-size="11.6" fill="#0f344c" stroke="#0f344c" text-anchor="middle" textLength="163.4" lengthAdjust="spacingAndGlyphs">DE TRAITEMENT DES EAUX</text>
<text x="129.7" y="381.0" font-size="11.6" fill="#0f344c" stroke="#0f344c" text-anchor="middle" textLength="187.3" lengthAdjust="spacingAndGlyphs">AVANT DE LA RENVOYER DANS</text>
<text x="130" y="395.3" font-size="11.6" fill="#0f344c" stroke="#0f344c" text-anchor="middle" textLength="166.6" lengthAdjust="spacingAndGlyphs">LE FLEUVE SAINT-LAURENT</text>
<text x="303.7" y="336.55" font-size="11.6" fill="#0f344c" stroke="#0f344c" text-anchor="middle" textLength="83.5" lengthAdjust="spacingAndGlyphs">CONTRIBUE À</text>
<text x="304.1" y="351.05" font-size="11.6" fill="#0f344c" stroke="#0f344c" text-anchor="middle" textLength="85.75" lengthAdjust="spacingAndGlyphs">LA RECHARGE</text>
<text x="303.4" y="366.05" font-size="11.6" fill="#0f344c" stroke="#0f344c" text-anchor="middle" textLength="120.75" lengthAdjust="spacingAndGlyphs">DE LA NAPPE D’EAU</text>
<text x="303.5" y="381.05" font-size="11.6" fill="#0f344c" stroke="#0f344c" text-anchor="middle" textLength="88" lengthAdjust="spacingAndGlyphs">SOUTERRAINE</text>
<text x="488.8" y="334.6" font-size="11.6" fill="#0f344c" stroke="#0f344c" text-anchor="middle" textLength="159" lengthAdjust="spacingAndGlyphs">RETOURNE DIRECTEMENT</text>
<text x="488.7" y="349.6" font-size="11.6" fill="#0f344c" stroke="#0f344c" text-anchor="middle" textLength="170.7" lengthAdjust="spacingAndGlyphs">AU FLEUVE SAINT-LAURENT</text>
<text x="488.6" y="364.6" font-size="11.6" fill="#0f344c" stroke="#0f344c" text-anchor="middle" textLength="199.5" lengthAdjust="spacingAndGlyphs">AU LIEU DU RÉSEAU D’EAU USÉE</text>
<text x="489.2" y="383.6" font-size="11.6" fill="#0f344c" stroke="#0f344c" text-anchor="middle" textLength="129.7" lengthAdjust="spacingAndGlyphs">RÉDUIT LA QUANTITÉ</text>
<text x="488.5" y="398.6" font-size="11.6" fill="#0f344c" stroke="#0f344c" text-anchor="middle" textLength="95" lengthAdjust="spacingAndGlyphs">D’EAU REJETÉE</text>
<text x="488" y="413.0" font-size="11.6" fill="#0f344c" stroke="#0f344c" text-anchor="middle" textLength="104" lengthAdjust="spacingAndGlyphs">DANS LE RÉSEAU</text>
<text x="24.2" y="232.8" font-size="11.6" fill="#fffdf8" stroke="#fffdf8" text-anchor="start" textLength="202.6" lengthAdjust="spacingAndGlyphs">ZONE DE FILTRATION NATURELLE</text>
<text x="211.4" y="211.3" font-size="11.6" fill="#fffdf8" stroke="#fffdf8" text-anchor="start" textLength="23" lengthAdjust="spacingAndGlyphs">SOL</text>
<text x="58.4" y="262.0" font-size="11.6" fill="#fffdf8" stroke="#fffdf8" text-anchor="start" textLength="173.4" lengthAdjust="spacingAndGlyphs">NAPPE D’EAU SOUTERRAINE</text>
<text x="362.6" y="212.70000000000002" font-size="11.6" fill="#fffdf8" stroke="#fffdf8" text-anchor="start" textLength="228" lengthAdjust="spacingAndGlyphs">FILTRE LES EAUX DE RUISSELLEMENT</text>
<text x="421.6" y="227.70000000000002" font-size="11.6" fill="#fffdf8" stroke="#fffdf8" text-anchor="start" textLength="110.1" lengthAdjust="spacingAndGlyphs">AVANT SON REJET</text>
</g>
</svg>
</body></html>
